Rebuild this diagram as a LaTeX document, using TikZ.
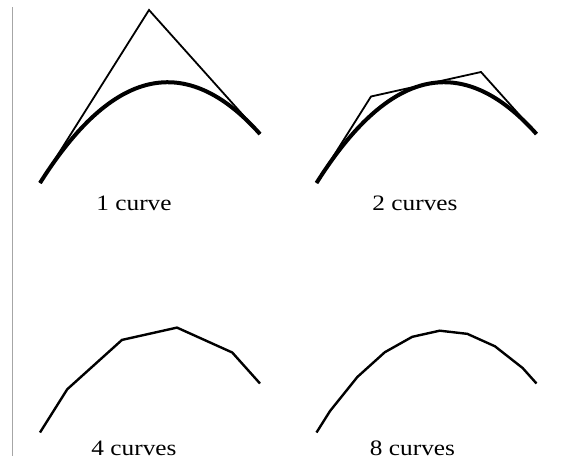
\documentclass[tikz,border=0pt]{standalone}
\usepackage{fontspec}
\setmainfont{Liberation Serif}
\begin{document}
\begin{tikzpicture}[x=1pt,y=-1pt,
  bezier/.style={line width=4pt},
  ctrlpoly/.style={line width=1.8pt, line join=miter},
  approx/.style={line width=2.4pt, line join=miter},
  caption/.style={anchor=base, inner sep=0pt, font=\fontsize{22}{24}\selectfont},
  rule/.style={draw=black!35, line width=1.6pt}]
\useasboundingbox (0,0) rectangle (582,461);
% left rule
\coordinate (rtop) at (12.5,7);
\coordinate (rbot) at (12.5,456);
\draw[rule] (rtop) -- (rbot);

% ---------- panel 1: 1 curve ----------
\begin{scope}
  \coordinate (a0) at (40,183);
  \coordinate (a1) at (149,10);
  \coordinate (a2) at (260,134);
  \coordinate (ac1) at (112.67,67.67);
  \coordinate (ac2) at (186,51.33);
  \draw[ctrlpoly] (a0) -- (a1) -- (a2);
  \draw[bezier] (a0) .. controls (ac1) and (ac2) .. (a2);
  \node[caption] (lab1) at (134,210) {\scalebox{1.15}[1]{1 curve}};
\end{scope}

% ---------- panel 2: 2 curves ----------
\begin{scope}[shift={(276.5,0)}]
  \coordinate (b0) at (40,183);
  \coordinate (b1) at (94.5,96.5);
  \coordinate (b2) at (149.5,84.25);
  \coordinate (b3) at (204.5,72);
  \coordinate (b4) at (260,134);
  \coordinate (bc1) at (112.67,67.67);
  \coordinate (bc2) at (186,51.33);
  \draw[ctrlpoly] (b0) -- (b1) -- (b2) -- (b3) -- (b4);
  \draw[bezier] (b0) .. controls (bc1) and (bc2) .. (b4);
  \node[caption] (lab2) at (138.5,210) {\scalebox{1.15}[1]{2 curves}};
\end{scope}

% ---------- panel 3: 4 curves ----------
\begin{scope}[shift={(0,249.5)}]
  \coordinate (c0) at (40,183);
  \coordinate (c1) at (67.25,139.75);
  \coordinate (c2) at (122,90.4);
  \coordinate (c3) at (177,78.1);
  \coordinate (c4) at (232.25,103);
  \coordinate (c5) at (260,134);
  \draw[approx] (c0) -- (c1) -- (c2) -- (c3) -- (c4) -- (c5);
  \node[caption] (lab3) at (134,206) {\scalebox{1.15}[1]{4 curves}};
\end{scope}

% ---------- panel 4: 8 curves ----------
\begin{scope}[shift={(276.5,249.5)}]
  \coordinate (d0) at (40,183);
  \coordinate (d1) at (53.63,161.38);
  \coordinate (d2) at (80.94,127.4);
  \coordinate (d3) at (108.31,102.72);
  \coordinate (d4) at (135.75,87.31);
  \coordinate (d5) at (163.25,81.19);
  \coordinate (d6) at (190.81,84.34);
  \coordinate (d7) at (218.44,96.78);
  \coordinate (d8) at (246.13,118.5);
  \coordinate (d9) at (260,134);
  \draw[approx] (d0) -- (d1) -- (d2) -- (d3) -- (d4) -- (d5) -- (d6) -- (d7) -- (d8) -- (d9);
  \node[caption] (lab4) at (136,206) {\scalebox{1.15}[1]{8 curves}};
\end{scope}
\end{tikzpicture}
\end{document}
